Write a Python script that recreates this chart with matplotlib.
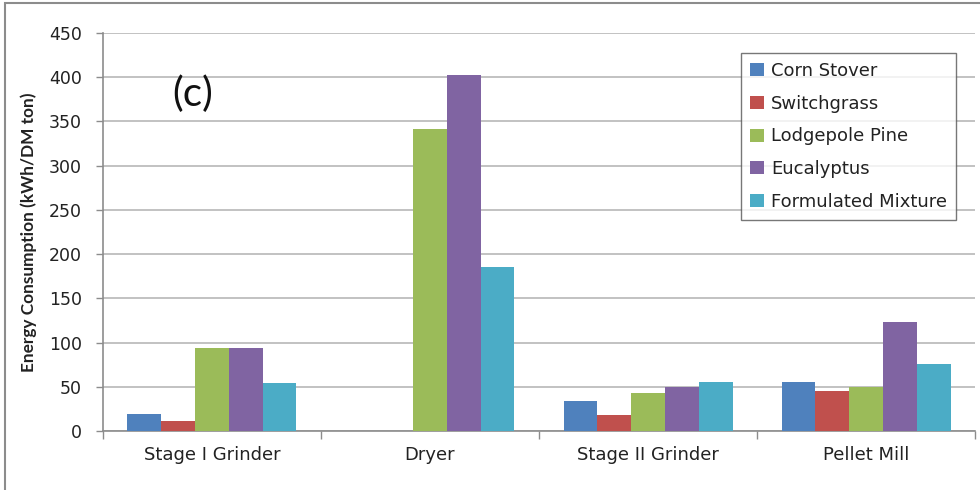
import numpy as np
import matplotlib.pyplot as plt
from matplotlib.patches import Rectangle
from matplotlib.ticker import FixedLocator

plt.rcParams['font.family'] = ['DejaVu Sans']

categories = ['Stage I Grinder', 'Dryer', 'Stage II Grinder', 'Pellet Mill']
series_names = ['Corn Stover', 'Switchgrass', 'Lodgepole Pine', 'Eucalyptus', 'Formulated Mixture']
corn_stover = [19, 0, 34, 56]
switchgrass = [11, 0, 18, 45]
lodgepole_pine = [94, 341, 43, 50]
eucalyptus = [94, 402, 50, 123]
formulated_mixture = [55, 185, 56, 76]
colors = ['#4F81BD', '#C0504D', '#9BBB59', '#8064A2', '#4BACC6']

values = [corn_stover, switchgrass, lodgepole_pine, eucalyptus, formulated_mixture]

fig = plt.figure(figsize=(9.8, 4.9), dpi=100)
ax = fig.add_axes([0.105, 0.12, 0.89, 0.813])

x = np.arange(len(categories))
width = 0.155
for i, (name, vals) in enumerate(zip(series_names, values)):
    ax.bar(x + (i - 2) * width, vals, width, color=colors[i], label=name, zorder=3)

ax.set_xlim(-0.5, len(categories) - 0.5)
ax.set_ylim(0, 450)
ax.set_yticks(range(0, 451, 50))
ax.yaxis.grid(True, color='#bdbdbd', linewidth=1.3, zorder=0)
ax.set_axisbelow(True)

ax.set_xticks(x)
ax.set_xticklabels(categories, fontsize=13, color='#222222')
ax.tick_params(axis='x', length=0, pad=11)
ax.xaxis.set_minor_locator(FixedLocator(np.arange(-0.5, len(categories), 1.0)))
ax.tick_params(axis='x', which='minor', length=6, color='#8c8c8c', width=1)
ax.tick_params(axis='y', length=5, color='#8c8c8c', width=1, labelsize=12.5,
               labelcolor='#222222', pad=10)

for side in ['top', 'right']:
    ax.spines[side].set_visible(False)
for side in ['left', 'bottom']:
    ax.spines[side].set_color('#8c8c8c')
    ax.spines[side].set_linewidth(1.2)

ax.set_ylabel('Energy Consumption (kWh/DM ton)', fontsize=12.4, fontweight='bold',
              color='#222222', family=['Lato', 'DejaVu Sans'])
ax.yaxis.set_label_coords(-0.0757, 0.5)

ax.text(0.079, 0.847, '(c)', transform=ax.transAxes, fontsize=29, color='#111111',
        va='center', family=['Lato', 'DejaVu Sans'])

leg = ax.legend(loc='upper left', bbox_to_anchor=(0.7317, 0.949), fontsize=13,
                frameon=True, fancybox=False, edgecolor='#555555',
                handlelength=0.75, handleheight=0.75, handletextpad=0.4,
                labelspacing=0.81, borderpad=0.5, borderaxespad=0)
leg.get_frame().set_linewidth(1.0)
for t in leg.get_texts():
    t.set_color('#222222')

fig.patches.append(Rectangle((5 / 980, -0.05), 1.1, 1.05 - 3 / 490, transform=fig.transFigure,
                             fill=False, edgecolor='#8c8c8c', linewidth=1.5))

fig.savefig('out.png', dpi=100)
